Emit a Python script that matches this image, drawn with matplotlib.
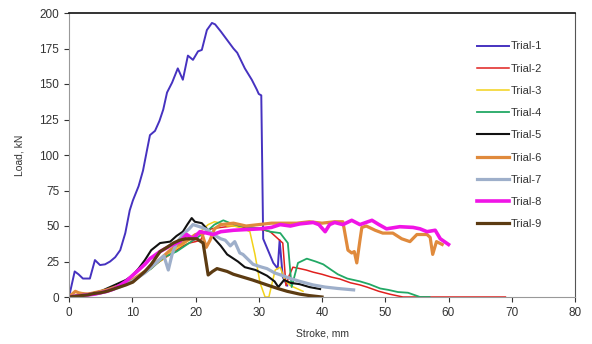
import matplotlib.pyplot as plt

plt.rcParams['font.family'] = ['Liberation Sans', 'DejaVu Sans']

# Trial data: stroke (mm) and load (kN)
x1 = [0, 0.9, 1.5, 2.2, 3.3, 4.1, 4.9, 5.7, 6.5, 7.3, 8.1, 8.9, 9.6, 10.1, 11.0, 11.7, 12.4, 12.8, 13.6, 14.3,
      14.9, 15.5, 16.3, 17.2, 17.6, 18.0, 18.8, 19.6, 20.4, 21.0, 21.8, 22.6, 23.1, 24.0, 25.0, 26.0, 26.6,
      27.8, 28.9, 29.7, 30.0, 30.4, 30.7, 32.3, 33.0, 33.3, 33.8, 34.5]
y1 = [0, 18, 16, 13, 13, 26, 22.5, 23, 25, 28, 33, 45, 61, 68, 78, 89, 105, 114, 117, 124,
      132, 144, 151, 161, 157, 153, 170, 167, 173, 174, 188, 193, 192, 187, 181, 175, 172,
      161, 153, 146, 143, 142, 41, 24, 20, 40, 14, 8]

x2 = [0, 1, 2, 3, 4, 5, 6, 7, 8, 9, 10, 11, 12, 13, 14, 15, 16, 17, 18, 19, 20, 20.8, 21.5, 22.5, 24, 26,
      28, 30, 31.8, 32.8, 33.8, 34.3, 34.8, 35.4, 36.5, 37.5, 38.6, 40, 41.5, 42.8, 44.5, 46, 47.1, 49,
      50.7, 52.8, 55, 60, 65, 69]
y2 = [0, 1, 2, 2.5, 3, 4, 5, 6.5, 8, 10, 12, 15, 18, 21, 24, 27, 30, 33, 36, 38, 39, 40, 46, 48, 49, 50,
      49, 48, 46, 42, 38, 8, 15, 21, 20, 19, 17.5, 16, 14, 12.7, 10, 8.5, 7, 4,
      2, 0, 0, 0, 0, 0]

x3 = [0, 1, 2, 3, 4, 5, 6, 7, 8, 9, 10, 11, 12, 13, 14, 15, 16, 17, 18, 19, 20, 21, 22, 23, 24, 25, 26,
      27, 28.1, 28.6, 29.4, 30.2, 31, 31.6, 32.6, 33.4, 34.1, 35, 36, 37]
y3 = [0, 1, 1.5, 2, 3, 4, 5, 6, 8, 10, 12, 14, 17, 20, 24, 27, 31, 34, 37, 40, 43, 47, 51, 53, 52, 50, 50,
      49, 47, 46, 30, 10, 0, 0, 19, 21, 12, 8, 6, 4]

x4 = [0, 1, 2, 3, 4, 5, 6, 7, 8, 9, 10, 11, 12, 13, 14, 15, 16, 17, 18, 19, 20, 21, 22, 23, 24.4, 25.5, 27,
      29, 30.5, 31.8, 33.4, 34.6, 35.2, 36.2, 37.6, 39, 40.2, 41.5, 42.5, 44, 46, 47.5, 49.2, 50.5, 52,
      53.6, 55.5, 57]
y4 = [0, 1, 1.5, 2, 3, 4, 5, 6, 7.5, 9, 11, 14, 17, 20, 24, 28, 30, 32, 35, 38, 41, 44, 47, 51, 54, 52, 50,
      49, 48, 46, 45, 38, 7, 24, 27, 25, 23, 19, 16, 13, 11, 9, 6, 5, 3.5,
      3, 0, 0]

x5 = [0, 1, 2, 3, 4, 5, 6, 7, 8, 9, 10, 11, 12, 13, 14.4, 16, 17, 18, 18.7, 19.4, 19.9, 21, 22, 22.8, 24,
      25, 26.7, 27.8, 29.5, 31.3, 32.5, 33.1, 34, 35, 36.5, 38, 39.7]
y5 = [0, 0.5, 1, 2, 3, 4, 6, 8, 10, 12, 15, 20, 26, 33, 38, 39, 43, 46, 51, 55.6, 53, 52, 47, 42, 36,
      30, 25, 21, 19, 15, 11, 7, 12, 10, 9, 7, 5.6]

x6 = [0, 0.5, 1, 1.5, 2, 3, 4, 5, 6, 7, 8, 9, 10, 11, 12, 13, 14, 15, 16, 17, 18, 19, 20, 21, 21.7, 22.3,
      23, 24, 26, 28, 30, 32, 34, 36, 38, 40, 42, 43.3, 44.1, 44.7, 45.1, 45.5, 46, 46.3, 47, 48.4, 49.6,
      51.2, 52.6, 53.9, 55, 56.6, 57.1, 57.5, 58.1, 59]
y6 = [0, 2, 4, 3, 2.5, 2, 3, 4, 5, 6.5, 8, 10, 12, 15, 18, 21, 25, 29, 33, 36, 38, 41, 44, 45, 35, 40,
      48, 51, 52, 50, 51, 52, 52, 52, 53, 52, 53, 53, 33, 31, 32, 24, 40, 49, 50, 47, 45,
      45, 41, 39, 44, 44, 42, 30, 39, 37]

x7 = [0, 1, 2, 3, 4, 5, 6, 7, 8, 9, 10, 11, 12, 13, 14, 15, 15.7, 16.3, 17, 18, 19, 19.6, 21, 22, 22.8,
      24, 24.7, 25.5, 26.2, 27, 27.5, 29.1, 30.5, 31.3, 32.5, 33.8, 35, 36.5, 38.6, 40.5, 42.5, 45]
y7 = [0, 0.5, 1, 1.5, 2, 3, 4, 5.5, 7, 9, 11, 14, 17, 21, 25, 29, 19, 30, 38, 44, 48, 51, 49, 47, 44,
      41, 40, 36, 39, 31, 30, 23, 21, 20, 17, 15, 13, 11, 8.5, 7, 6, 5]

x8 = [0, 1, 2, 3, 4, 5, 6, 7, 8, 9, 10, 11, 12, 12.8, 14.4, 16, 17.5, 18.6, 19.6, 20.7, 21.8, 22.8, 24, 26,
      28, 30.2, 32, 33.4, 35, 36.5, 38.6, 39.5, 40.5, 41.2, 42, 43.3, 44.7, 46, 47.9, 49, 50.2, 52.3, 54.4,
      55.5, 56.6, 57.9, 58.7, 60]
y8 = [0, 0.5, 1, 1.5, 2, 3, 4, 5.5, 8, 11, 15, 19, 23, 27, 32, 36, 39, 44, 41, 46, 45, 44, 46, 47,
      47.5, 48, 49, 51, 50, 51.5, 52.5, 51, 46, 51, 52.5, 51, 54, 51, 54, 51, 48, 49.5, 49,
      48, 46, 47, 41, 37]

x9 = [0, 1, 2, 3, 4, 5, 6, 7, 8, 9, 10.1, 11, 12, 13, 14.4, 15.5, 16.5, 17.5, 18.5, 19.5, 20.2, 21.2, 22,
      22.7, 23.4, 25, 26, 27.5, 29, 31.3, 33, 34.5, 36.5, 38, 40]
y9 = [0, 0.5, 1, 1.5, 2.5, 3, 4, 5.5, 7, 8.5, 10.5, 14, 18, 23, 32, 35, 38, 40, 41, 41, 41, 38, 15.5,
      18, 20, 18, 16, 14, 12, 8.5, 6, 4, 2, 1, 0]

trials = [
    ('Trial-1', x1, y1, '#4632c0', 1.4),
    ('Trial-2', x2, y2, '#e0201e', 1.1),
    ('Trial-3', x3, y3, '#f2d21a', 1.1),
    ('Trial-4', x4, y4, '#22a865', 1.3),
    ('Trial-5', x5, y5, '#111111', 1.5),
    ('Trial-6', x6, y6, '#e08a3c', 2.3),
    ('Trial-7', x7, y7, '#9eafca', 2.3),
    ('Trial-8', x8, y8, '#f014e6', 2.6),
    ('Trial-9', x9, y9, '#5c3b12', 2.3),
]

fig = plt.figure(figsize=(5.92, 3.44), dpi=100)
ax = fig.add_axes([69 / 592, 1 - 297 / 344, 506 / 592, 284 / 344])

for label, xs, ys, color, lw in trials:
    ax.plot(xs, ys, color=color, linewidth=lw, label=label)

ax.set_xlim(0, 80)
ax.set_ylim(0, 200)
ax.set_xticks(range(0, 81, 10))
ax.set_yticks(range(0, 201, 25))
ax.tick_params(labelsize=8.5, colors='#333333', length=3.5, width=0.8)
ax.spines['top'].set_color('#111111')
ax.spines['top'].set_linewidth(1.2)
ax.spines['right'].set_color('#555555')
ax.spines['left'].set_color('#999999')
ax.spines['bottom'].set_color('#999999')

ax.set_xlabel('Stroke, mm', fontsize=7.5, color='#333333', labelpad=7)
ax.set_ylabel('Load, kN', fontsize=7.5, color='#333333', labelpad=11)

ax.legend(loc='upper left', bbox_to_anchor=(0.806, 0.90), frameon=False, fontsize=8,
          handlelength=2.9, handletextpad=0.15, labelspacing=1.1,
          borderpad=0, borderaxespad=0, labelcolor='#333333')

plt.savefig('out.png', dpi=100)
